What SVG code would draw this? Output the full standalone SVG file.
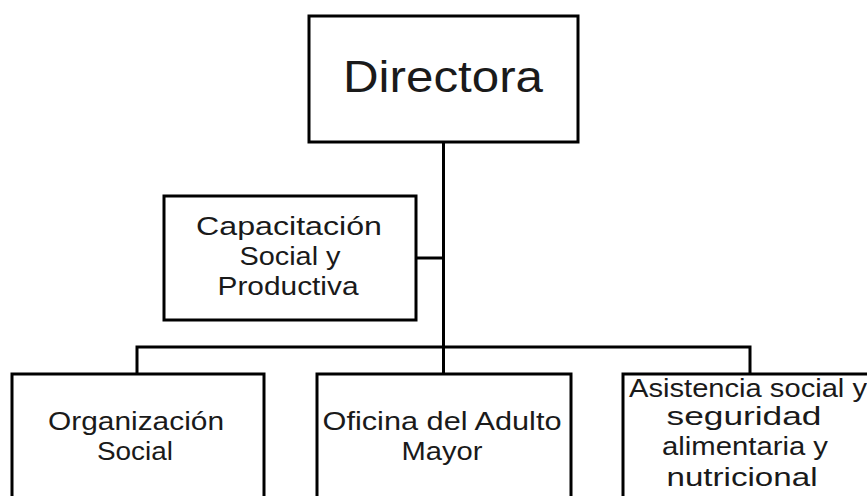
<svg xmlns="http://www.w3.org/2000/svg" width="867" height="496" viewBox="0 0 867 496">
<style>
.box{fill:#fff;stroke:#000;stroke-width:3}
.ln{fill:none;stroke:#000;stroke-width:3}
text{font-family:"Liberation Sans",Arial,sans-serif;fill:#1a1a1a;text-anchor:middle}
.s{font-size:26px}
.b{font-size:44px}
</style>
<rect width="867" height="496" fill="#fff"/>
<g id="connectors">
<path class="ln" d="M443.5 142 V374"/>
<path class="ln" d="M416 258 H443.5"/>
<path class="ln" d="M137 374 V347 H750 V374"/>
</g>
<g id="n-directora">
<rect class="box" x="309" y="16" width="269" height="126"/>
<text class="b" x="443" y="92" textLength="200" lengthAdjust="spacingAndGlyphs">Directora</text>
</g>
<g id="n-capacitacion">
<rect class="box" x="164" y="196" width="252" height="124"/>
<text class="s" x="289" y="235" textLength="186" lengthAdjust="spacingAndGlyphs">Capacitación</text>
<text class="s" x="290" y="265" textLength="101" lengthAdjust="spacingAndGlyphs">Social y</text>
<text class="s" x="288" y="295" textLength="141" lengthAdjust="spacingAndGlyphs">Productiva</text>
</g>
<g id="n-organizacion">
<rect class="box" x="12" y="374" width="252" height="140"/>
<text class="s" x="136" y="430" textLength="176" lengthAdjust="spacingAndGlyphs">Organización</text>
<text class="s" x="135" y="460" textLength="76" lengthAdjust="spacingAndGlyphs">Social</text>
</g>
<g id="n-oficina">
<rect class="box" x="317" y="374" width="254" height="140"/>
<text class="s" x="442" y="430" textLength="239" lengthAdjust="spacingAndGlyphs">Oficina del Adulto</text>
<text class="s" x="442" y="460" textLength="81" lengthAdjust="spacingAndGlyphs">Mayor</text>
</g>
<g id="n-asistencia">
<rect class="box" x="623" y="374" width="260" height="140"/>
<text class="s" x="748" y="397" textLength="238" lengthAdjust="spacingAndGlyphs">Asistencia social y</text>
<text class="s" x="744" y="425" textLength="155" lengthAdjust="spacingAndGlyphs">seguridad</text>
<text class="s" x="745" y="455" textLength="166" lengthAdjust="spacingAndGlyphs">alimentaria y</text>
<text class="s" x="742" y="486" textLength="151" lengthAdjust="spacingAndGlyphs">nutricional</text>
</g>
</svg>
